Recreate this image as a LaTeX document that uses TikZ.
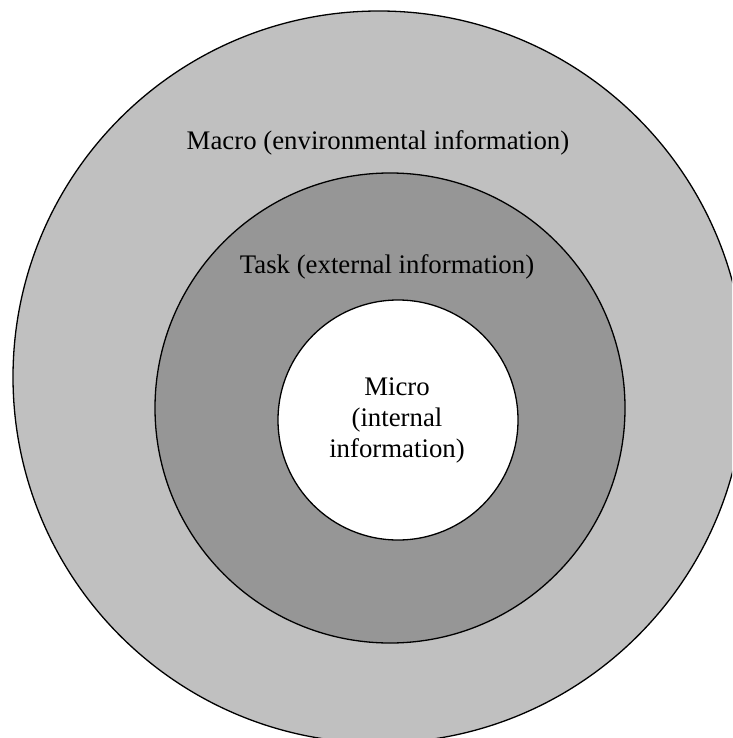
\documentclass[tikz,border=0pt]{standalone}
\usepackage{fontspec}
\setmainfont{Liberation Serif}
\definecolor{macrogray}{RGB}{192,192,192}
\definecolor{taskgray}{RGB}{150,150,150}
\begin{document}
\begin{tikzpicture}[x=1pt,y=-1pt,
  ring/.style={circle,draw=black,line width=1.3pt,inner sep=0pt,outer sep=0pt},
  lbl/.style={font=\fontsize{26.8}{31}\selectfont,align=center,inner sep=0pt}]
\useasboundingbox (0,0) rectangle (732,738);
\clip (0,0) rectangle (732,738);
\node[ring,fill=macrogray,minimum size=732pt] (macro) at (379,377) {};
\node[ring,fill=taskgray,minimum size=470pt] (task) at (390,408) {};
\node[ring,fill=white,minimum size=240pt] (micro) at (398,420) {};
\node[lbl] (macrotext) at (378,143) {Macro (environmental information)};
\node[lbl] (tasktext) at (387,267) {Task (external information)};
\node[lbl] (microtext) at (397,420) {Micro\\(internal\\information)};
\end{tikzpicture}
\end{document}
